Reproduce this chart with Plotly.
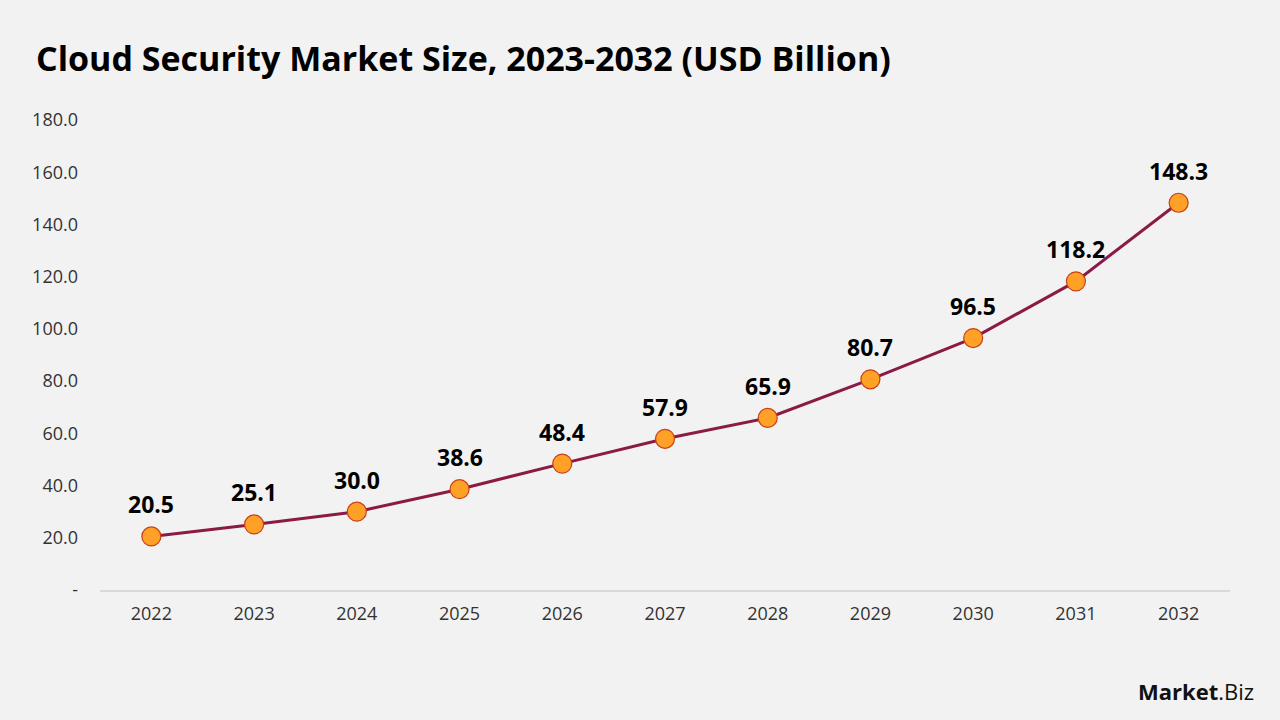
import plotly.graph_objects as go

years = [2022, 2023, 2024, 2025, 2026, 2027, 2028, 2029, 2030, 2031, 2032]
year_labels = ["2022", "2023", "2024", "2025", "2026", "2027", "2028", "2029", "2030", "2031", "2032"]
values = [20.5, 25.1, 30.0, 38.6, 48.4, 57.9, 65.9, 80.7, 96.5, 118.2, 148.3]
y_ticks = [0, 20, 40, 60, 80, 100, 120, 140, 160, 180]
y_tick_text = ["-", "20.0", "40.0", "60.0", "80.0", "100.0", "120.0", "140.0", "160.0", "180.0"]

FONT = "Open Sans"

fig = go.Figure()
fig.add_trace(go.Scatter(
    x=years, y=values, mode="lines+markers",
    line=dict(color="#8B1A45", width=3),
    marker=dict(size=19, color="#FFA126", line=dict(color="#C8401A", width=1.2)),
    hoverinfo="skip", showlegend=False,
))

for x, v in zip(years, values):
    fig.add_annotation(x=x, y=v, text=f"<b>{v:.1f}</b>", showarrow=False,
                       yshift=32, font=dict(family=FONT, size=23, color="#000000"))

fig.add_annotation(xref="paper", yref="paper", x=-0.058, y=1.132, xanchor="left", yanchor="middle",
                   text="<b>Cloud Security Market Size, 2023-2032 (USD Billion)</b>",
                   showarrow=False, font=dict(family=FONT, size=34, color="#000000"))

fig.add_annotation(xref="paper", yref="paper", x=1.023, y=-0.215, xanchor="right", yanchor="middle",
                   text="<b>Market</b>.Biz", showarrow=False,
                   font=dict(family=FONT, size=22, color="#111111"))

fig.update_layout(
    width=1280, height=720,
    paper_bgcolor="#F2F2F2", plot_bgcolor="#F2F2F2",
    margin=dict(l=100, r=50, t=120, b=130),
    font=dict(family=FONT, color="#333333"),
    xaxis=dict(range=[2021.5, 2032.5], tickvals=years, ticktext=year_labels,
               showgrid=False, showline=True, linecolor="#D9D9D9", linewidth=1.5,
               ticks="", tickfont=dict(size=18, color="#333333"), ticklabelstandoff=7,
               zeroline=False),
    yaxis=dict(range=[0, 180], tickvals=y_ticks, ticktext=y_tick_text, showgrid=False,
               showline=False, zeroline=False, ticks="", ticklabelstandoff=21,
               tickfont=dict(size=18, color="#333333")),
)

fig.write_html("out.html")
